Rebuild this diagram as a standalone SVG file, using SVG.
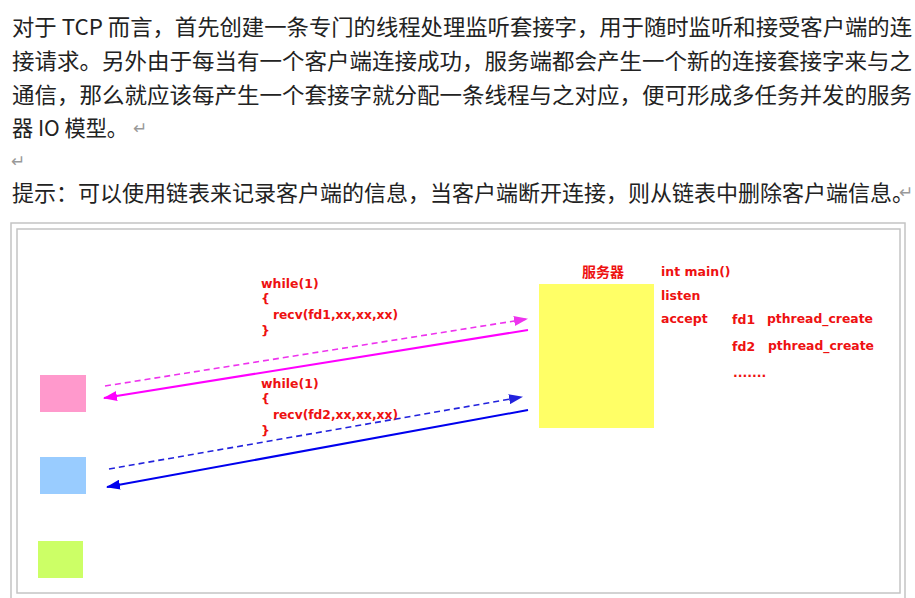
<svg xmlns="http://www.w3.org/2000/svg" width="915" height="598" viewBox="0 0 915 598">
<defs>
<style>
.para{font-family:"Noto Sans CJK SC","Microsoft YaHei",sans-serif;font-size:22px;fill:#222}
.pm{font-family:"DejaVu Sans",sans-serif;font-size:17px;fill:#999}
.code{font-family:"DejaVu Sans",Verdana,sans-serif;font-size:12.5px;font-weight:bold;fill:#ee1111}
.cjk{font-family:"Noto Sans CJK SC",sans-serif;font-size:14px;font-weight:bold;fill:#ee1111}
.frame{fill:none;stroke:#c4c4c4;stroke-width:1.5}
</style>
<marker id="ahPink" viewBox="0 0 14 10" refX="13" refY="5" markerWidth="14" markerHeight="10" markerUnits="userSpaceOnUse" orient="auto"><path d="M0,0 L14,5 L0,10 Z" fill="#ff00ff"/></marker>
<marker id="ahPinkD" viewBox="0 0 14 10" refX="13" refY="5" markerWidth="14" markerHeight="10" markerUnits="userSpaceOnUse" orient="auto"><path d="M0,0 L14,5 L0,10 Z" fill="#ee33ee"/></marker>
<marker id="ahBlue" viewBox="0 0 14 10" refX="13" refY="5" markerWidth="14" markerHeight="10" markerUnits="userSpaceOnUse" orient="auto"><path d="M0,0 L14,5 L0,10 Z" fill="#0000ee"/></marker>
<marker id="ahBlueD" viewBox="0 0 14 10" refX="13" refY="5" markerWidth="14" markerHeight="10" markerUnits="userSpaceOnUse" orient="auto"><path d="M0,0 L14,5 L0,10 Z" fill="#2222dd"/></marker>
</defs>
<rect width="915" height="598" fill="#fff"/>
<g id="paragraph">
<text class="para" x="12" y="35" textLength="900" lengthAdjust="spacingAndGlyphs">对于 TCP 而言，首先创建一条专门的线程处理监听套接字，用于随时监听和接受客户端的连</text>
<text class="para" x="12" y="69" textLength="900" lengthAdjust="spacingAndGlyphs">接请求。另外由于每当有一个客户端连接成功，服务端都会产生一个新的连接套接字来与之</text>
<text class="para" x="12" y="103" textLength="900" lengthAdjust="spacingAndGlyphs">通信，那么就应该每产生一个套接字就分配一条线程与之对应，便可形成多任务并发的服务</text>
<text class="para" x="12" y="136" textLength="116" lengthAdjust="spacingAndGlyphs">器 IO 模型。</text>
<text class="pm" x="133" y="134">↵</text>
<text class="pm" x="11" y="167">↵</text>
<text class="para" x="12" y="201" font-size="21">提示：可以使用链表来记录客户端的信息，当客户端断开连接，则从链表中删除客户端信息。</text>
<text class="pm" x="899" y="198" font-size="15">↵</text>
</g>
<g id="frame">
<path class="frame" d="M11,598 L11,223 L905,223 L905,598"/>
<rect class="frame" x="17" y="229" width="883" height="364"/>
</g>
<g id="client1"><rect x="40" y="375" width="46" height="37" fill="#ff99cc"/></g>
<g id="client2"><rect x="40" y="457" width="46" height="37" fill="#99ccff"/></g>
<g id="client3"><rect x="38" y="541" width="45" height="37" fill="#ccff66"/></g>
<g id="server">
<rect x="539" y="284" width="115" height="144" fill="#ffff66"/>
<text class="cjk" x="582" y="277">服务器</text>
</g>
<g id="server-code">
<text class="code" x="661" y="276">int main()</text>
<text class="code" x="661" y="300">listen</text>
<text class="code" x="661" y="323">accept</text>
<text class="code" x="732" y="324">fd1</text>
<text class="code" x="767" y="323" textLength="106" lengthAdjust="spacingAndGlyphs">pthread_create</text>
<text class="code" x="732" y="351">fd2</text>
<text class="code" x="768" y="350" textLength="106" lengthAdjust="spacingAndGlyphs">pthread_create</text>
<text class="code" x="733" y="377">.......</text>
</g>
<g id="thread1-code">
<text class="code" x="261" y="288">while(1)</text>
<text class="code" x="261" y="303">{</text>
<text class="code" x="273" y="319" textLength="125" lengthAdjust="spacingAndGlyphs">recv(fd1,xx,xx,xx)</text>
<text class="code" x="261" y="335">}</text>
</g>
<g id="thread2-code">
<text class="code" x="261" y="388">while(1)</text>
<text class="code" x="261" y="403">{</text>
<text class="code" x="273" y="419" textLength="125" lengthAdjust="spacingAndGlyphs">recv(fd2,xx,xx,xx)</text>
<text class="code" x="261" y="435">}</text>
</g>
<g id="connectors">
<line x1="105" y1="386" x2="527" y2="319" stroke="#ee33ee" stroke-width="1.6" stroke-dasharray="6,4" marker-end="url(#ahPinkD)"/>
<line x1="528" y1="330" x2="104" y2="398" stroke="#ff00ff" stroke-width="2" marker-end="url(#ahPink)"/>
<line x1="109" y1="469" x2="522" y2="397" stroke="#2222dd" stroke-width="1.6" stroke-dasharray="6,4" marker-end="url(#ahBlueD)"/>
<line x1="528" y1="410" x2="107" y2="487" stroke="#0000ee" stroke-width="2" marker-end="url(#ahBlue)"/>
</g>
</svg>
